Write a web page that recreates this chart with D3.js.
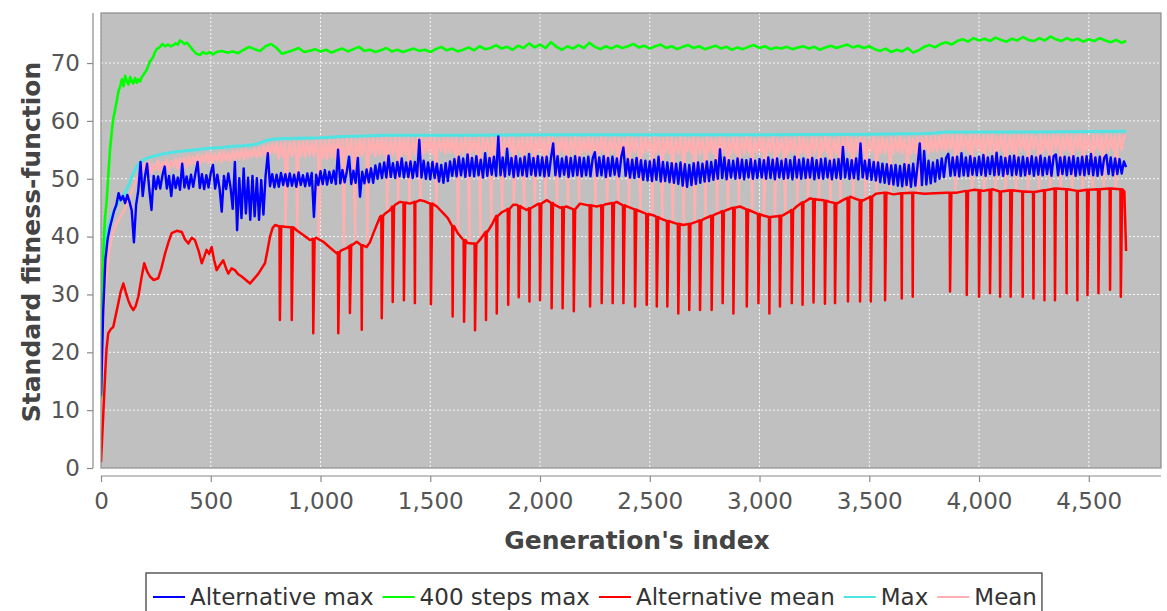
<!DOCTYPE html>
<html><head><meta charset="utf-8">
<script src="https://cdn.jsdelivr.net/npm/d3@7"></script>
<style>body{margin:0;background:#fff} svg{display:block}</style>
</head><body>
<svg id="c" width="1167" height="611"></svg>
<script>
// ---------------- DATA ----------------
const seriesNames  = ["Alternative max", "400 steps max", "Alternative mean", "Max", "Mean"];
const seriesColors = ["#0000ff", "#00ff00", "#ff0000", "#4fe3e3", "#ffafaf"];
const xTicks = [0, 500, 1000, 1500, 2000, 2500, 3000, 3500, 4000, 4500];
const yTicks = [0, 10, 20, 30, 40, 50, 60, 70];
const xTitle = "Generation's index";
const yTitle = "Standard fitness-function";

// sampled every 10 generations (0 .. 4670)
const sampleStep = 10;
const altMax = [
12.5,27,36,39.5,41.5,43,44.5,45.5,47.5,46.3,47,45.8,47.2,46,44.5,39,45.5,48,52.9,47,
50.3,52.6,48.1,44.6,50.5,48.2,50.4,48.3,50.6,52.1,48.3,50.5,47,50.6,48.4,50.2,48.1,52.6,48.5,50.4,
48.3,50.7,48.6,50.9,52.9,48.4,50.8,48.2,50.6,48.5,51,52.4,48.3,50.7,48.4,44.3,50.5,48.2,50.9,48.6,
44.8,52.9,41.1,50.1,43.2,51.8,44,50.2,42.9,50.5,43.5,50.1,42.9,49.8,43.8,50.6,54.4,48.7,50.8,48.5,
50.7,48.6,51,48.9,50.8,48.7,50.9,48.8,50.7,48.6,51.1,48.9,50.6,48.7,50.9,48.8,51,43.4,50.7,48.9,
51.3,49.1,51.5,49,51.2,49.3,51.4,49.1,55,49.2,51.5,49.4,51.3,53.8,49.1,51.4,49.3,53.6,46.9,51.2,
49.2,51.6,49.4,51.8,49.3,52.3,50,52.6,50.1,52.8,50.2,54,50.3,52.7,50.1,52.9,50.4,53.5,50.2,52.8,
50.3,53,50.1,52.9,50.4,56.7,50.2,53.1,50,52.8,49.9,52.9,50.1,52.6,49.5,52.4,49.3,52.7,49.6,53,
50.5,53.4,50.4,53.8,50.6,53.5,50.3,54.2,50.5,53.6,50.4,53.9,50.6,53.3,50.2,54.4,50.5,53.6,50.7,53.8,
50.5,57.3,50.6,53.7,50.4,55.2,50.7,53.6,50.3,53.9,50.5,53.5,50.6,53.8,50.4,54.3,50.7,53.6,50.5,53.9,
50.6,53.7,50.4,53.8,50.5,53.6,56.1,50.6,53.9,50.4,53.5,50.7,53.8,50.3,53.6,50.5,53.9,50.6,53.7,50.4,
53.6,50.6,53.8,50.4,53.5,54.6,50.5,53.7,50.6,53.9,50.3,53.6,50.5,53.8,50.7,53.5,50.4,53.7,55.4,50.5,
53.4,50.2,53.3,50.1,53.6,50.3,53.2,49.8,53.1,49.7,53.0,49.6,53.3,49.8,53.8,49.5,52.9,49.6,52.8,49.4,
52.7,49.3,52.6,49.1,52.8,48.8,52.5,48.6,52.4,48.9,52.7,49.1,52.8,49.3,52.6,49.5,53,49.6,52.9,49.8,
53.2,50,55.1,50.1,53.7,49.9,53.2,50.2,53.1,50,53.5,50.1,53.3,49.9,53.2,50.2,53.4,50,53.1,50.1,
53.4,50.2,53.2,50,53.7,50.1,53.3,49.9,53.5,50.2,53.1,50,53.4,50.1,53.2,49.9,53.8,50.2,53.3,50,
53.5,50.1,53.3,50.2,53.6,49.9,53.2,50.1,53.4,50,53.5,50.2,53.1,49.9,53.3,50.1,53.4,50,55.5,50.2,
53.4,50,53.2,50.1,53.5,49.9,56.1,50.2,53.1,50,53.3,49.8,52.9,49.7,52.8,49.4,52.6,49.3,52.5,49.1,
52.3,49,52.4,48.8,52.2,48.7,52.5,48.9,52.4,48.6,52.6,48.8,52.3,56.1,48.9,54.8,49,53.1,49.2,52.8,
49.5,53.2,50,53.5,50.3,53.6,54.3,50.5,53.7,50.6,53.8,50.4,54.4,50.6,53.7,50.5,53.9,50.7,53.6,50.6,
53.8,50.7,54.1,50.5,53.7,50.8,53.9,50.6,54.5,50.7,53.8,50.5,53.6,50.8,53.9,50.6,54,50.7,53.7,50.5,
53.8,50.6,53.6,50.8,53.9,50.5,53.7,50.7,54,50.6,53.6,50.8,53.8,50.5,53.9,54.2,50.6,53.7,50.8,53.8,
50.6,53.7,50.8,53.9,50.5,53.6,50.7,53.8,50.6,53.9,50.8,54.3,50.6,53.7,50.5,53.8,50.7,53.6,54.1,50.8,
53.7,50.6,53.5,50.8,53.4,50.9,53,52
];

const meanVals = [
10,24,31,35,38,40,41.3,42.2,42.8,43.5,44.2,44.9,45.8,46.8,47.8,48.8,49.6,50.4,51,51.3,
52.6,51.2,52.8,50.9,52.5,51.6,53.1,51.3,52.9,51.8,53.3,51.5,53.0,52.1,53.5,51.7,53.4,52.2,53.7,51.9,
54.0,52.3,53.8,52.6,54.2,52.4,54.1,52.9,54.4,52.7,54.5,52.8,54.3,53.1,54.6,52.9,54.7,53.2,54.5,53.0,
54.8,53.2,54.9,53.5,55.0,53.3,55.1,53.6,54.9,53.8,55.2,53.7,55.3,53.9,55.6,54.1,55.8,54.3,56.0,54.4,
56.2,53.5,56.1,53.8,56.3,53.6,56.2,53.9,56.4,53.7,56.3,54.0,56.4,53.8,56.5,54.1,56.3,53.9,56.5,54.0,
56.6,53.6,56.5,53.4,56.7,53.7,56.6,53.5,56.8,53.8,56.7,53.6,56.8,53.9,56.9,53.7,56.7,53.8,56.9,54.0,
57.0,54.0,56.9,54.3,57.1,53.9,56.8,54.2,57.0,54.1,57.1,54.4,56.9,54.0,57.0,54.3,57.2,54.1,56.9,54.2,
57.1,54.5,56.8,54.2,57.0,54.7,57.1,54.4,56.9,54.6,57.2,54.3,57.0,54.5,56.8,54.8,57.1,54.4,57.0,54.6,
56.9,54.4,57.1,54.6,56.8,54.3,57.2,54.5,57.0,54.7,56.9,54.4,57.1,54.2,57.0,54.6,56.8,54.5,57.2,54.3,
57.0,54.6,57.1,54.3,56.9,54.5,57.2,54.7,57.0,54.4,56.8,54.6,57.1,54.3,57.0,54.5,57.2,54.4,56.9,54.7,
57.1,54.4,56.9,54.6,57.2,54.3,57.0,54.5,56.8,54.7,57.1,54.4,57.0,54.6,56.9,54.3,57.2,54.5,57.0,54.6,
56.9,54.5,57.1,54.3,57.0,54.7,56.8,54.4,57.2,54.6,57.0,54.3,56.9,54.5,57.1,54.7,57.0,54.4,56.8,54.6,
57.2,54.4,57.0,54.6,56.9,54.3,57.1,54.5,57.0,54.7,56.8,54.4,57.2,54.6,57.0,54.3,56.9,54.5,57.1,54.4,
57.0,54.6,56.8,54.3,57.1,54.5,57.0,54.7,56.9,54.4,57.2,54.6,57.0,54.3,56.8,54.5,57.1,54.7,57.0,54.4,
56.9,54.5,57.2,54.4,57.0,54.6,56.8,54.3,57.1,54.5,57.0,54.7,56.9,54.4,57.2,54.6,57.0,54.3,56.8,54.5,
57.1,54.7,57.0,54.4,56.9,54.6,57.2,54.3,57.0,54.5,56.8,54.7,57.1,54.4,57.0,54.6,56.9,54.3,57.2,54.5,
57.0,54.4,56.8,54.6,57.1,54.3,57.0,54.5,56.9,54.7,57.2,54.4,57.0,54.6,56.8,54.3,57.1,54.5,57.0,54.7,
57.2,54.6,57.0,54.3,56.9,54.5,57.1,54.7,57.0,54.4,56.8,54.6,57.2,54.3,57.0,54.5,57.1,54.4,56.9,54.6,
57.1,54.5,57.0,54.7,57.2,54.4,56.9,54.6,57.1,54.3,57.0,54.5,57.2,54.7,57.1,54.6,57.3,54.5,57.2,54.8,
57.4,54.7,57.3,55.0,57.6,54.8,57.5,55.1,57.4,54.9,57.6,54.7,57.5,55.0,57.3,54.8,57.6,55.1,57.5,54.9,
57.6,54.8,57.4,55.0,57.5,54.7,57.6,55.1,57.3,54.9,57.5,54.8,57.6,55.0,57.4,54.7,57.5,55.1,57.6,54.9,
57.4,55.0,57.6,54.8,57.5,55.1,57.3,54.9,57.6,54.7,57.5,55.0,57.4,54.8,57.6,55.1,57.5,54.9,57.3,55.0,
57.6,54.8,57.5,55.1,57.4,54.9,57.6,54.7,57.5,55.0,57.3,54.8,57.6,55.1,57.5,54.9,57.4,55.0,57.6,54.8,
57.5,55.1,57.4,54.9,57.6,55.0,57.5,57.2
];
// periodic drops of "Mean": [generation, lowest value]
const meanDrops = [
[840,42],[894,41.5],[992,40],[1106,38.5],[1159,39.5],[1213,39],[1304,44.5],[1354,46.2],[1405,46],[1455,46.5],
[1528,45.5],[1627,41],[1679,39.2],[1729,39.8],[1779,42.4],[1828,44.5],[1880,45.8],[1928,45.2],[1977,45.6],[2025,46.5],
[2078,45.6],[2128,45.5],[2179,46],[2253,45.6],[2306,46],[2356,46.3],[2405,45.5],[2458,44.6],[2511,44],[2557,43.3],
[2605,42.7],[2655,42.3],[2705,42.8],[2754,43.4],[2807,44.3],[2857,45],[2906,45.5],[2967,44.6],[3020,44],[3070,43.8],
[3118,44.3],[3172,45.6],[3221,46.8],[3271,46.7],[3323,46.3],[3369,46.5],[3428,47],[3483,46.8],[3532,47.8],[3597,47.9],
[3673,47.9],[3723,47.9],[3893,48],[3969,48.3],[4025,48.2],[4075,48.4],[4121,48.2],[4169,48.3],[4224,48.1],[4273,48.2],
[4323,48.4],[4371,48.5],[4424,48.4],[4473,48.3],[4519,48.4],[4569,48.5],[4622,48.5]
];

// [generation, value]
const maxPts = [
[0,13],[4,27],[8,33],[15,37],[25,40],[35,42],[50,43.8],[65,45],[80,46],[95,46.8],[110,47.5],[125,48.8],[140,50.3],
[155,51.6],[170,52.5],[190,53.2],[220,53.7],[260,54.1],[300,54.4],[350,54.7],[400,54.9],[450,55.1],[500,55.3],
[550,55.4],[600,55.6],[650,55.7],[700,55.9],[730,56.3],[760,56.7],[800,56.9],[900,57.0],[1000,57.1],[1100,57.3],
[1200,57.4],[1300,57.5],[1600,57.5],[2000,57.6],[2500,57.6],[3000,57.6],[3500,57.7],[3750,57.8],[3800,57.9],
[3850,58.1],[4200,58.1],[4670,58.2]
];

const steps400 = [
[0,12],[4,24],[8,34],[12,39],[18,43],[26,46.3],[33,50.5],[41,55],[50,58.5],[57,60.6],[64,61.9],[72,63.5],[80,65.2],
[87,65.9],[95,67.2],[103,66],[110,67.8],[117,67],[125,66.3],[133,67.6],[140,66.8],[147,66.5],[155,67.4],[163,66.6],
[170,67.2],[178,66.8],[186,67.6],[194,68],[201,68.4],[208,68.8],[216,69.6],[223,70.3],[230,70.6],[238,71.1],[246,71.9],
[254,72.4],[262,72.6],[269,72.8],[280,73.3],[292,72.9],[305,73.2],[317,72.9],[329,73.1],[340,73.4],[350,73.2],[360,73.9],
[368,73.7],[380,73.3],[392,73.5],[405,72.9],[420,72.2],[435,71.6],[451,71.4],[465,71.9],[480,71.6],[495,71.9],[510,71.5],
[527,71.9],[550,72.1],[575,71.8],[600,72.0],[625,71.7],[650,72.3],[675,72.8],[700,72.4],[725,72.1],[750,72.9],[775,73.3],
[800,72.6],[825,71.6],[850,71.9],[875,72.2],[900,72.6],[925,71.9],[950,72.1],[975,72.4],[1000,72.0],[1025,72.3],
[1050,71.8],[1075,72.2],[1100,72.5],[1125,72.0],[1150,72.4],[1175,72.8],[1200,72.1],[1225,72.3],[1250,71.9],[1275,72.2],
[1300,72.6],[1325,72.0],[1350,72.3],[1375,71.9],[1400,72.2],[1425,72.5],[1450,72.1],[1475,72.3],[1500,71.9],[1525,72.4],
[1550,72.8],[1575,72.2],[1600,72.5],[1625,72.0],[1650,72.3],[1675,72.7],[1700,72.2],[1725,72.9],[1750,72.4],[1775,72.6],
[1800,73.1],[1825,72.5],[1850,72.8],[1875,72.3],[1900,73.0],[1925,72.6],[1950,73.4],[1975,72.7],[2000,73.2],[2025,72.6],
[2050,73.6],[2075,72.8],[2100,72.3],[2125,72.9],[2150,72.5],[2175,73.1],[2200,72.6],[2225,73.5],[2250,72.8],[2275,72.4],
[2300,72.9],[2325,72.5],[2350,73.0],[2375,72.6],[2400,72.9],[2425,73.3],[2450,72.7],[2475,73.0],[2500,72.5],[2525,72.9],
[2550,73.2],[2575,72.6],[2600,72.9],[2625,72.4],[2650,72.8],[2675,73.1],[2700,72.6],[2725,72.9],[2750,72.4],[2775,72.7],
[2800,73.0],[2825,72.5],[2850,72.8],[2875,72.3],[2900,72.7],[2925,72.4],[2950,72.8],[2975,73.1],[3000,72.6],[3025,72.9],
[3050,72.4],[3075,72.7],[3100,72.5],[3125,72.8],[3150,72.4],[3175,72.7],[3200,72.9],[3225,72.5],[3250,72.8],[3275,72.3],
[3300,72.7],[3325,73.0],[3350,72.6],[3375,72.9],[3400,73.2],[3425,72.7],[3450,73.0],[3475,72.6],[3500,72.9],[3525,72.4],
[3550,72.1],[3575,72.5],[3600,71.9],[3625,72.3],[3650,72.0],[3675,72.6],[3700,71.8],[3725,72.2],[3750,72.8],[3775,73.1],
[3800,72.7],[3825,73.3],[3850,73.6],[3875,73.2],[3900,73.8],[3925,74.1],[3950,73.7],[3975,74.3],[4000,73.9],[4025,74.2],
[4050,73.8],[4075,74.4],[4100,74.0],[4125,73.7],[4150,74.2],[4175,73.9],[4200,74.5],[4225,74.0],[4250,73.8],[4275,74.3],
[4300,73.9],[4325,74.6],[4350,74.1],[4375,73.8],[4400,74.3],[4425,73.9],[4450,74.2],[4475,73.7],[4500,74.1],[4525,73.8],
[4550,74.3],[4575,73.9],[4600,73.6],[4625,74.0],[4650,73.5],[4670,73.8]
];

const altMeanBase = [
[0,1.0],[5,5],[10,9],[15,13],[20,17],[25,20.5],[33,23.3],[45,24],[56,24.4],[65,26],[79,28.5],[90,30.5],[102,31.9],
[112,30.5],[124,29],[135,28],[147,27.3],[158,28],[170,29.6],[185,33],[197,35.4],[210,34],[223,33.1],[240,32.5],[261,32.8],
[275,34.5],[292,37.1],[307,39],[322,40.6],[345,41],[368,40.8],[383,39.5],[398,38.8],[413,39.8],[428,39.4],[445,37.5],
[459,35.4],[470,36.5],[481,37.7],[493,37],[504,38.2],[515,36],[527,34.2],[540,35],[557,35.9],[570,34.5],[580,33.6],
[595,34.5],[610,34.2],[625,33.5],[641,33.1],[660,32.5],[679,31.9],[695,32.6],[717,33.6],[732,34.5],[747,35.4],[758,37.5],
[770,40],[782,41.5],[793,42],[810,41.8],[838,41.7],[860,41.6],[891,41.1],[920,40.3],[952,39.4],[980,39.8],[1013,39.1],
[1040,38.2],[1074,37.1],[1095,37.6],[1119,38],[1140,38.6],[1165,39.1],[1190,38.5],[1210,38.2],[1225,39],[1241,40.6],
[1256,42],[1271,43.4],[1295,44],[1317,44.6],[1340,45.5],[1362,46],[1385,45.8],[1408,45.7],[1432,46],[1453,46.3],
[1475,46.1],[1499,45.7],[1530,45.2],[1560,44],[1580,43.2],[1605,41.7],[1625,40.6],[1651,39.4],[1670,38.9],[1690,38.8],
[1712,38.8],[1730,39.6],[1757,40.9],[1780,42],[1806,43.6],[1825,44.2],[1848,44.6],[1878,45.5],[1894,45.5],[1920,45],
[1939,44.6],[1955,44.9],[1990,45.6],[2031,46.3],[2060,45.6],[2091,45],[2120,45.2],[2152,44.7],[2182,45.7],[2220,45.4],
[2258,45.2],[2300,45.6],[2349,46],[2390,45.3],[2440,44.6],[2480,44],[2516,43.7],[2550,43.1],[2592,42.6],[2625,42.2],
[2653,42],[2685,42.2],[2714,42.6],[2750,43.1],[2790,43.7],[2820,44.2],[2851,44.6],[2880,45],[2911,45.2],[2950,44.6],
[2987,44],[3020,43.6],[3048,43.4],[3080,43.5],[3108,43.7],[3140,44.4],[3169,45.2],[3200,46],[3230,46.6],[3260,46.4],
[3291,46.3],[3320,46],[3352,45.7],[3380,46.3],[3412,46.9],[3440,46.5],[3470,46.2],[3500,46.8],[3530,47.4],[3570,47.6],
[3610,47.3],[3650,47.5],[3700,47.6],[3750,47.4],[3800,47.5],[3850,47.6],[3900,47.6],[3940,47.9],[3980,48.1],[4020,47.9],
[4060,48.2],[4100,47.8],[4150,48],[4200,47.8],[4250,47.7],[4300,48],[4350,48.3],[4400,48.2],[4450,47.9],[4500,48.1],
[4550,48.2],[4600,48.3],[4640,48.2],[4662,47.8],[4670,37.5]
];
// periodic drops of "Alternative mean": [generation, value before, lowest value]
const altMeanDrops = [
[815,41.8,25.6],[869,41.6,25.6],[967,39.6,23.3],[1081,37.3,23.3],[1134,38.4,26.8],[1188,38.5,23.9],[1279,43.6,25.9],
[1329,45.2,28.7],[1380,45.9,29],[1430,46,28.5],[1503,45.7,28.3],[1602,41.8,26.2],[1654,39.4,25.3],[1704,38.8,23.8],
[1754,40.8,25.6],[1803,43.6,26.7],[1855,44.8,28.2],[1903,45.3,29.5],[1952,44.9,28.8],[2000,45.7,29],[2053,45.8,27.6],
[2103,45.1,27.6],[2154,44.7,27.1],[2228,45.4,27.9],[2281,45.4,28.5],[2331,45.8,28.5],[2380,45.4,28.5],[2433,44.7,27.9],
[2486,43.9,28.2],[2532,43.4,27.9],[2580,42.7,27.9],[2630,42.2,26.7],[2680,42.2,27.3],[2729,42.8,27.3],[2782,43.6,27.3],
[2832,44.4,28.5],[2881,45,26.7],[2942,44.7,27.9],[2995,43.9,28.5],[3045,43.4,26.7],[3093,43.6,27.9],[3147,44.6,28.5],
[3196,45.9,28.2],[3246,46.5,28.6],[3298,46.2,28.4],[3344,45.8,28.5],[3403,46.7,28.8],[3458,46.3,28.8],[3507,46.9,28.8],
[3572,47.6,29],[3648,47.5,29.3],[3698,47.6,29.6],[3868,47.6,30.5],[3944,47.9,29.9],[4000,48,29.6],[4050,48.1,30.2],
[4096,47.8,29.6],[4144,48,29.6],[4199,47.8,29.6],[4248,47.7,29.3],[4298,48,29],[4346,48.3,29],[4399,48.2,30.2],
[4448,47.9,29],[4494,48.1,29.9],[4544,48.2,30.2],[4597,48.3,30.8],[4646,48.2,29.6]
];

// ---------------- CHART ----------------
const svg = d3.select("#c");
const P = {left: 101, right: 1161, top: 13, bottom: 468};
const x = d3.scaleLinear().domain([0, 4829]).range([P.left, P.right]);
const y = d3.scaleLinear().domain([0, 78.65]).range([P.bottom, P.top]);
const FONT = "'DejaVu Sans', Verdana, sans-serif";

svg.append("defs").append("clipPath").attr("id", "clip")
  .append("rect").attr("x", P.left).attr("y", P.top)
  .attr("width", P.right - P.left).attr("height", P.bottom - P.top);

svg.append("rect").attr("x", P.left).attr("y", P.top)
  .attr("width", P.right - P.left).attr("height", P.bottom - P.top)
  .attr("fill", "#c0c0c0");

// grid
const grid = svg.append("g").attr("stroke", "#ffffff").attr("stroke-width", 1)
  .attr("stroke-dasharray", "2,2").attr("opacity", 0.9);
grid.selectAll("line.h").data(yTicks).join("line").attr("class", "h")
  .attr("x1", P.left).attr("x2", P.right).attr("y1", d => y(d)).attr("y2", d => y(d));
grid.selectAll("line.v").data(xTicks).join("line").attr("class", "v")
  .attr("y1", P.top).attr("y2", P.bottom).attr("x1", d => x(d)).attr("x2", d => x(d));

// build point lists
const altMaxPts = altMax.map((v, i) => [i * sampleStep, v]);
const meanPts = meanVals.map((v, i) => [i * sampleStep, v])
  .concat(meanDrops.map(d => [d[0], d[1]]))
  .sort((a, b) => a[0] - b[0]);
const altMeanPts = altMeanBase.map(d => [d[0], d[1], 0])
  .concat(altMeanDrops.flatMap(d => [[d[0] - 2, d[1], 1], [d[0], d[2], 2], [d[0] + 6, d[1], 3]]))
  .sort((a, b) => a[0] - b[0] || a[2] - b[2]);

const line = d3.line().x(d => x(d[0])).y(d => y(d[1]));
const lines = svg.append("g").attr("clip-path", "url(#clip)")
  .attr("fill", "none").attr("stroke-linejoin", "round");
// drawing order: last series first (Mean at the back, Alternative max on top)
const drawData = [altMaxPts, steps400, altMeanPts, maxPts, meanPts];
const strokeW = [2.4, 2.6, 2.5, 3, 2.6];
[4, 3, 2, 1, 0].forEach(i => {
  lines.append("path").datum(drawData[i]).attr("d", line)
    .attr("stroke", seriesColors[i]).attr("stroke-width", strokeW[i]);
});

// plot outline
svg.append("rect").attr("x", P.left).attr("y", P.top)
  .attr("width", P.right - P.left).attr("height", P.bottom - P.top)
  .attr("fill", "none").attr("stroke", "#8a8a8a").attr("stroke-width", 1.2);

// axes
const yAxis = svg.append("g").attr("transform", "translate(93,0)")
  .call(d3.axisLeft(y).tickValues(yTicks).tickSize(6).tickSizeOuter(0).tickPadding(7));
const xAxis = svg.append("g").attr("transform", "translate(0,476)")
  .call(d3.axisBottom(x).tickValues(xTicks).tickFormat(d3.format(",")).tickSize(6).tickSizeOuter(0).tickPadding(11));
[yAxis, xAxis].forEach(a => {
  a.select(".domain").attr("stroke", "#8a8a8a").attr("stroke-width", 1.2);
  a.selectAll(".tick line").attr("stroke", "#8a8a8a").attr("stroke-width", 1.2);
  a.selectAll(".tick text").attr("fill", "#555").style("font-family", FONT).style("font-size", "23px");
});
xAxis.select(".domain").attr("d", `M${P.left},0H${P.right}`);
yAxis.select(".domain").attr("d", `M0,${P.top}V${P.bottom}`);

// titles
svg.append("text").attr("x", 637).attr("y", 549).attr("text-anchor", "middle")
  .attr("fill", "#444").style("font-family", FONT).style("font-weight", "bold").style("font-size", "25px")
  .text(xTitle);
svg.append("text").attr("transform", "translate(40,242) rotate(-90)").attr("text-anchor", "middle")
  .attr("fill", "#444").style("font-family", FONT).style("font-weight", "bold").style("font-size", "25px")
  .text(yTitle);

// legend
const lg = svg.append("g");
let cx = 153;
const ly = 597;
seriesNames.forEach((n, i) => {
  lg.append("line").attr("x1", cx).attr("x2", cx + 32).attr("y1", ly).attr("y2", ly)
    .attr("stroke", seriesColors[i]).attr("stroke-width", 2);
  const t = lg.append("text").attr("x", cx + 37).attr("y", ly).attr("dy", "0.36em")
    .attr("fill", "#333").style("font-family", FONT).style("font-size", "23px").text(n);
  cx += 37 + t.node().getComputedTextLength() + 9;
});
lg.insert("rect", ":first-child").attr("x", 146).attr("y", 573)
  .attr("width", cx - 146 - 4).attr("height", 50)
  .attr("fill", "#fff").attr("stroke", "#333").attr("stroke-width", 1.2);
</script>
</body></html>
